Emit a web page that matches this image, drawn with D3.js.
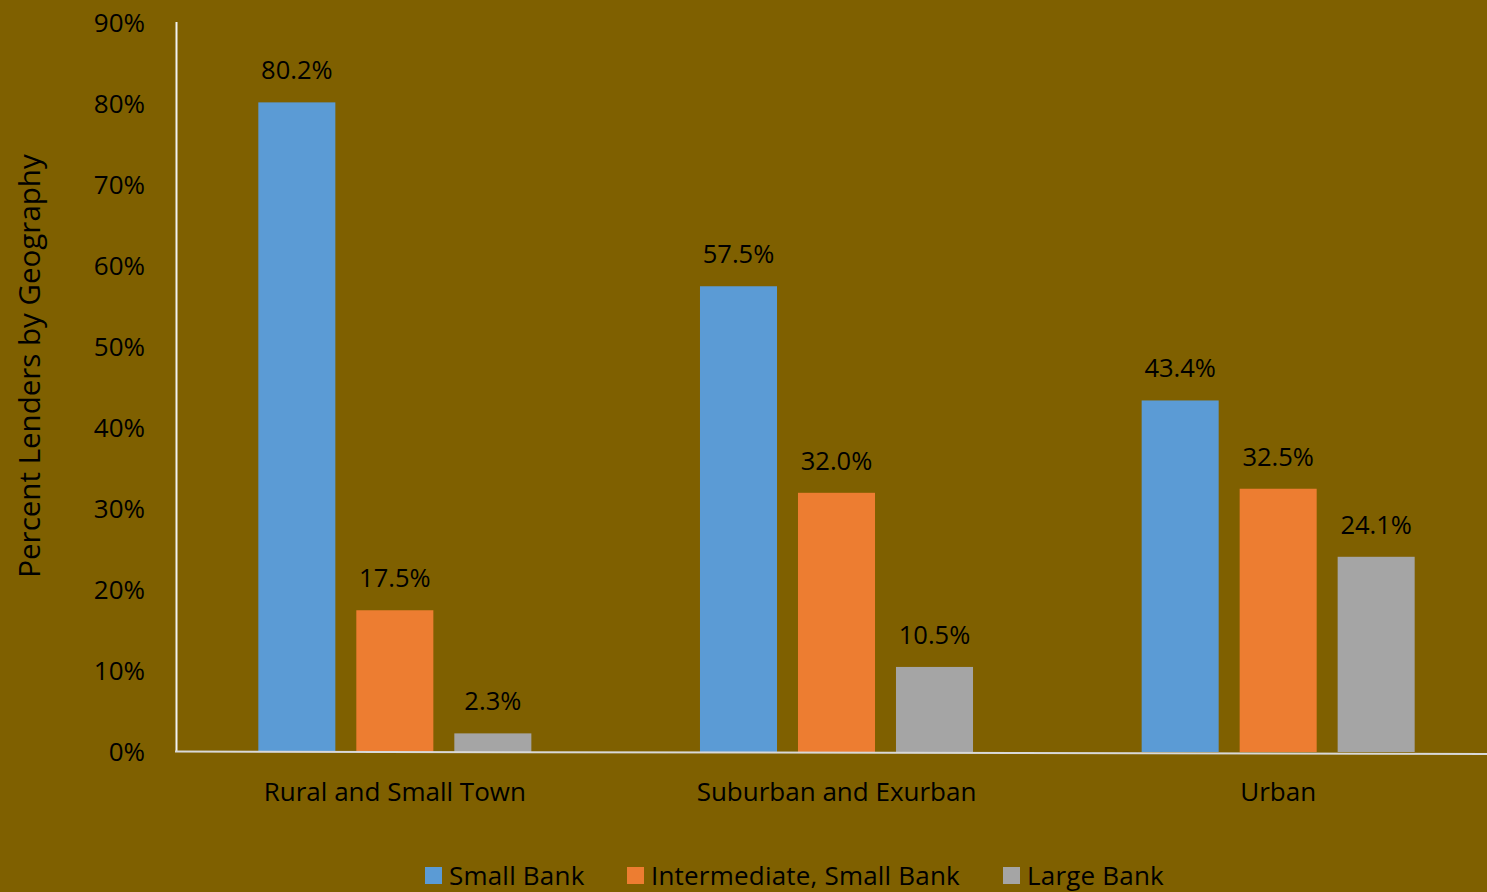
<!DOCTYPE html>
<html>
<head>
<meta charset="utf-8">
<script src="https://cdn.jsdelivr.net/npm/d3@7"></script>
<style>
  html, body { margin: 0; padding: 0; background: #7F6000; }
  svg { display: block; }
  text { font-family: "Open Sans", Lato, sans-serif; fill: #000; }
</style>
</head>
<body>
<svg id="chart" width="1487" height="892"></svg>
<script>
// Share of lenders by geography and bank size
const categories = ["Rural and Small Town", "Suburban and Exurban", "Urban"];
const seriesNames = ["Small Bank", "Intermediate, Small Bank", "Large Bank"];
const smallBank = [80.2, 57.5, 43.4];
const intermediateSmallBank = [17.5, 32.0, 32.5];
const largeBank = [2.3, 10.5, 24.1];
const yTicks = [0, 10, 20, 30, 40, 50, 60, 70, 80, 90];
const colors = ["#5B9BD5", "#ED7D31", "#A5A5A5"];

const seriesValues = [smallBank, intermediateSmallBank, largeBank];

const svg = d3.select("#chart");
const W = 1487, H = 892;

const x0 = d3.scaleBand().domain(categories).range([174, 1499]).padding(0);
const x1 = d3.scaleBand().domain(seriesNames).range([-147, 147])
  .paddingInner(0.214).paddingOuter(0.107);
const y = d3.scaleLinear().domain([0, 90]).range([752, 23]);

// y tick labels
svg.append("g").selectAll("text").data(yTicks).join("text")
  .attr("x", 145).attr("y", d => y(d)).attr("dy", "0.36em")
  .attr("text-anchor", "end").style("font-size", "26px")
  .text(d => d + "%");

// y axis title
svg.append("text")
  .attr("transform", `translate(40, 366) rotate(-90)`)
  .attr("text-anchor", "middle").style("font-size", "29.5px")
  .text("Percent Lenders by Geography");

// bars
const groups = svg.append("g").selectAll("g").data(categories).join("g")
  .attr("transform", d => `translate(${x0(d) + x0.bandwidth() / 2},0)`);

groups.each(function (cat, ci) {
  const g = d3.select(this);
  const rows = seriesNames.map((s, si) => ({ s, si, v: seriesValues[si][ci] }));
  g.selectAll("rect").data(rows).join("rect")
    .attr("x", d => x1(d.s)).attr("width", x1.bandwidth())
    .attr("y", d => y(d.v)).attr("height", d => y(0) - y(d.v))
    .attr("fill", d => colors[d.si]);
  g.selectAll("text.val").data(rows).join("text").attr("class", "val")
    .attr("x", d => x1(d.s) + x1.bandwidth() / 2)
    .attr("y", d => y(d.v) - 23)
    .attr("text-anchor", "middle").style("font-size", "25.5px")
    .text(d => d.v.toFixed(1) + "%");
});

// axes lines
svg.append("line").attr("x1", 176.5).attr("x2", 176.5).attr("y1", 22).attr("y2", 752)
  .attr("stroke", "#F2F2F2").attr("stroke-width", 2);
svg.append("line").attr("x1", 175).attr("x2", W).attr("y1", 751.5).attr("y2", 754)
  .attr("stroke", "#D9D9D9").attr("stroke-width", 2);

// category labels
svg.append("g").selectAll("text").data(categories).join("text")
  .attr("x", d => x0(d) + x0.bandwidth() / 2).attr("y", 792).attr("dy", "0.36em")
  .attr("text-anchor", "middle").style("font-size", "26px")
  .text(d => d);

// legend
const legendX = [425, 627, 1003];
const legend = svg.append("g").selectAll("g").data(seriesNames).join("g")
  .attr("transform", (d, i) => `translate(${legendX[i]},867)`);
legend.append("rect").attr("width", 17).attr("height", 17).attr("fill", (d, i) => colors[i]);
legend.append("text").attr("x", 24).attr("y", 9).attr("dy", "0.36em")
  .style("font-size", "26px").style("letter-spacing", "0.2px").text(d => d);
</script>
</body>
</html>
